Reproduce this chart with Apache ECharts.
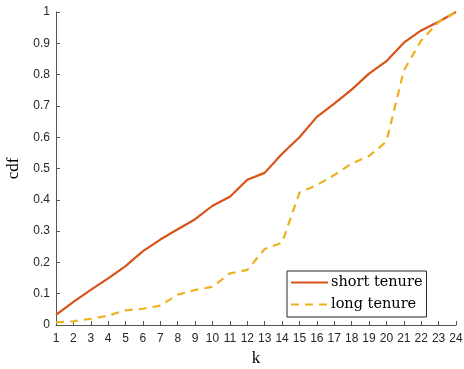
<!DOCTYPE html>
<html><head><meta charset="utf-8">
<script src="https://cdn.jsdelivr.net/npm/echarts@6/dist/echarts.min.js"></script>
<style>html,body{margin:0;padding:0;background:#fff}#c{width:464px;height:369px}</style>
</head><body><div id="c"></div>
<script>
const kValues = ['1','2','3','4','5','6','7','8','9','10','11','12','13','14','15','16','17','18','19','20','21','22','23','24'];
const shortTenure = [0.032,0.074,0.112,0.149,0.188,0.236,0.273,0.306,0.338,0.381,0.41,0.464,0.486,0.547,0.600,0.665,0.707,0.752,0.803,0.843,0.902,0.941,0.969,1.0];
const longTenure = [0.008,0.012,0.02,0.03,0.047,0.052,0.062,0.097,0.112,0.122,0.165,0.176,0.243,0.263,0.423,0.447,0.479,0.516,0.54,0.586,0.813,0.909,0.968,1.0];
const yTicks = [0,0.1,0.2,0.3,0.4,0.5,0.6,0.7,0.8,0.9,1];

const chart = echarts.init(document.getElementById('c'));
const axisCol = '#262626';
chart.setOption({
  animation: false,
  grid: {left: 56, right: 8, top: 12, bottom: 44, containLabel: false, outerBoundsMode: 'none'},
  xAxis: {
    type: 'category', data: kValues, boundaryGap: false,
    name: 'k', nameLocation: 'middle', nameGap: 18,
    nameTextStyle: {fontFamily: 'Liberation Serif', fontSize: 17, color: '#000'},
    axisLine: {lineStyle: {color: '#555', width: 1}},
    axisTick: {inside: true, length: 4, lineStyle: {color: '#555'}, interval: 0},
    axisLabel: {fontFamily: 'Liberation Sans', fontSize: 12, color: axisCol, margin: 8, interval: 0},
    splitLine: {show: false}
  },
  yAxis: {
    type: 'value', min: 0, max: 1, interval: 0.1,
    name: 'cdf', nameLocation: 'middle', nameGap: 31,
    nameTextStyle: {fontFamily: 'Liberation Serif', fontSize: 17, color: '#000'},
    axisLine: {show: true, lineStyle: {color: '#555', width: 1}},
    axisTick: {show: true, inside: true, length: 4, lineStyle: {color: '#555'}},
    axisLabel: {fontFamily: 'Liberation Sans', fontSize: 12, color: axisCol, margin: 6,
      formatter: v => String(Math.round(v*10)/10)},
    splitLine: {show: false}
  },
  legend: {
    orient: 'vertical', left: 287, top: 271,
    backgroundColor: '#fff', borderColor: '#262626', borderWidth: 1,
    padding: [4, 4, 5, 3], itemGap: 7, itemWidth: 37, itemHeight: 14,
    textStyle: {fontFamily: 'DejaVu Serif', fontSize: 14.5, color: '#000', padding: [0,0,0,-2]},
    itemStyle: {opacity: 0},
    data: ['short tenure', 'long tenure']
  },
  series: [
    {name: 'short tenure', type: 'line', data: shortTenure, symbol: 'none',
     lineStyle: {color: '#D95319', width: 2.2}, itemStyle: {color: '#D95319'}},
    {name: 'long tenure', type: 'line', data: longTenure, symbol: 'none',
     lineStyle: {color: '#EDB120', width: 2.2, type: [8, 6]}, itemStyle: {color: '#EDB120'}}
  ]
});
</script></body></html>
